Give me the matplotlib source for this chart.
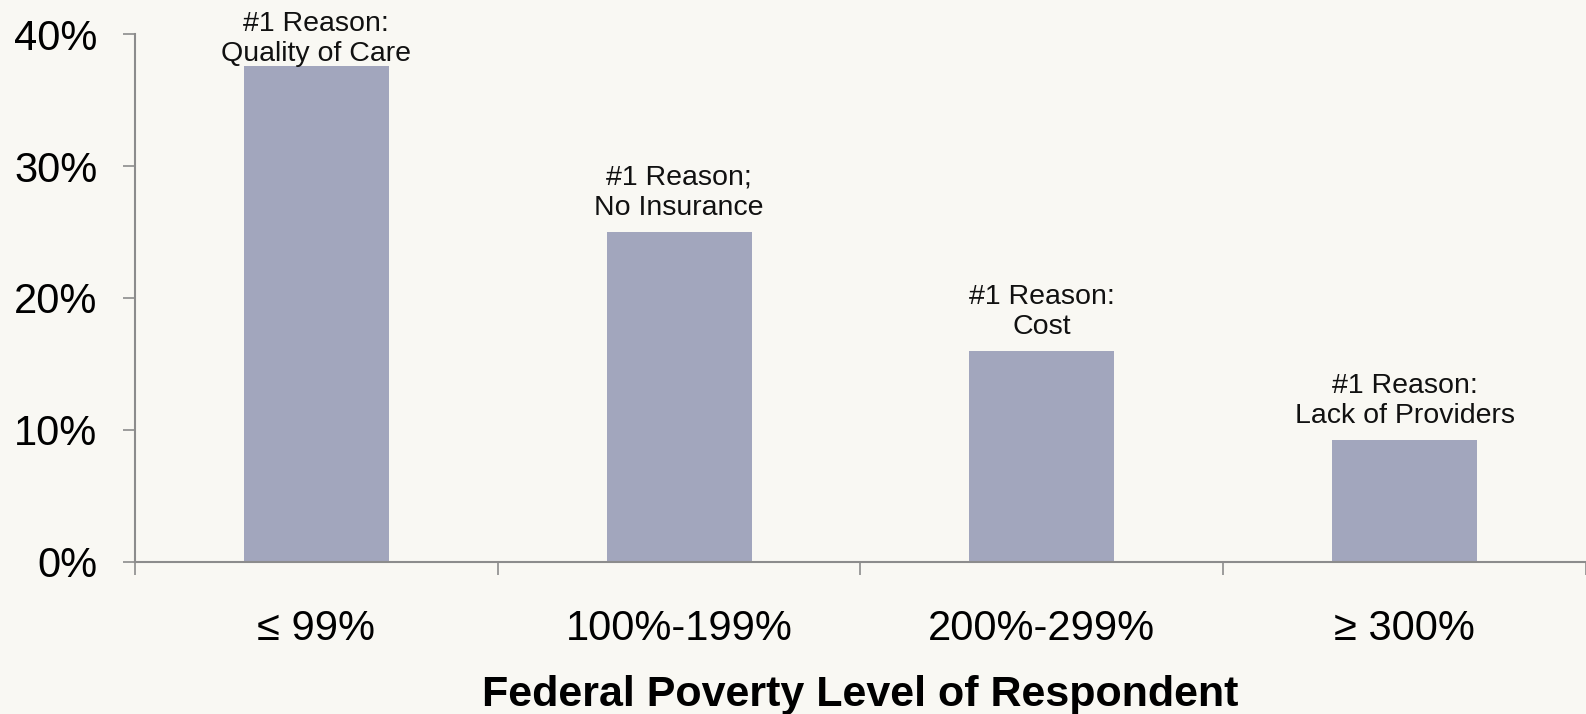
import numpy as np
import matplotlib
matplotlib.use("Agg")
import matplotlib.pyplot as plt
from matplotlib.ticker import FixedLocator, FuncFormatter

plt.rcParams['font.family'] = ['Liberation Sans', 'DejaVu Sans']

# data
categories = ["\u2264 99%", "100%-199%", "200%-299%", "\u2265 300%"]
values = [37.6, 25.0, 16.0, 9.2]
reasons = ["#1 Reason:\nQuality of Care", "#1 Reason;\nNo Insurance",
           "#1 Reason:\nCost", "#1 Reason:\nLack of Providers"]
yticks = [0, 10, 20, 30, 40]

bg = "#F9F8F3"
bar_color = "#A2A6BD"
axis_color = "#8C8C8C"

fig = plt.figure(figsize=(15.86, 7.14), dpi=100, facecolor=bg)
ax = fig.add_axes([0.0851, 0.2133, 0.9149, 0.7387])
ax.set_facecolor(bg)

x = np.arange(len(categories))
ax.bar(x, values, width=0.4, color=bar_color, zorder=2)

ax.set_xlim(-0.5, len(categories) - 0.5)
ax.set_ylim(0, 40)

# labels above bars
offsets = [-1, 8, 8, 8]
for xi, v, txt, off in zip(x, values, reasons, offsets):
    ax.annotate(txt, (xi, v), textcoords="offset points", xytext=(0, off),
                ha='center', va='bottom', fontsize=20.5, color='#111111',
                linespacing=1.2, annotation_clip=False)

for s in ['top', 'right']:
    ax.spines[s].set_visible(False)
for s in ['left', 'bottom']:
    ax.spines[s].set_color(axis_color)
    ax.spines[s].set_linewidth(1.5)

ax.yaxis.set_major_locator(FixedLocator(yticks))
ax.yaxis.set_major_formatter(FuncFormatter(lambda v, p: "%d%%" % v))
ax.tick_params(axis='y', length=9, width=1.2, color=axis_color, pad=18,
               labelsize=30, labelcolor='black')

ax.set_xticks(x)
ax.set_xticklabels(categories)
ax.xaxis.set_minor_locator(FixedLocator(np.arange(len(categories) + 1) - 0.5))
ax.tick_params(axis='x', which='major', length=0, pad=34, labelsize=30,
               labelcolor='black')
ax.tick_params(axis='x', which='minor', length=9, width=1.2, color=axis_color)

ax.set_xlabel("Federal Poverty Level of Respondent", fontsize=31,
              fontweight='bold', labelpad=19)

fig.savefig("out.png", dpi=100, facecolor=bg)
